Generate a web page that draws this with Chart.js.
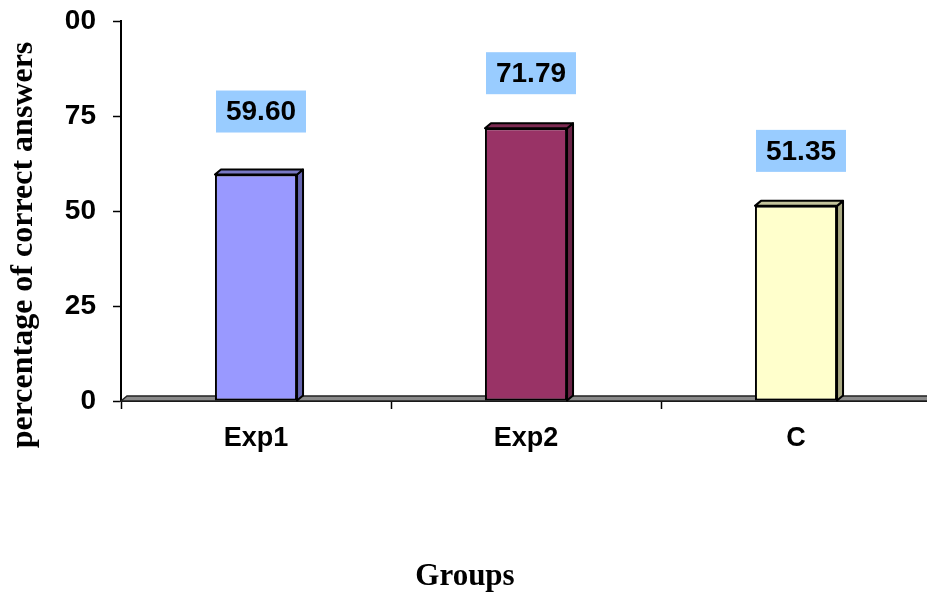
<!DOCTYPE html>
<html>
<head>
<meta charset="utf-8">
<script src="https://cdn.jsdelivr.net/npm/chart.js@4"></script>
<style>
  html, body { margin: 0; padding: 0; background: #fff; overflow: hidden; }
  #wrap { width: 940px; height: 593px; }
</style>
</head>
<body>
<div id="wrap"><canvas id="c" width="940" height="593"></canvas></div>
<script>
// Percentage of correct answers per group
const groups = ['Exp1', 'Exp2', 'C'];
const scores = [59.60, 71.79, 51.35];
const yTickLabels = ['0', '25', '50', '75', '00'];
const yTickValues = [0, 25, 50, 75, 100];

const frontColors = ['#9999FF', '#993366', '#FFFFCC'];
const sideColors  = ['#6565B0', '#6A2346', '#A9A982'];
const topColors   = ['#7878C4', '#7C2A52', '#C4C49C'];

const DEPTH_X = 6, DEPTH_Y = 5;

// grey 3D floor under the bars
const floorPlugin = {
  id: 'floor',
  beforeDatasetsDraw(chart) {
    const { ctx, chartArea } = chart;
    const y0 = chart.scales.y.getPixelForValue(0);
    const l = chartArea.left, r = chartArea.right;
    ctx.save();
    ctx.beginPath();
    ctx.moveTo(l, y0);
    ctx.lineTo(l + DEPTH_X, y0 - DEPTH_Y);
    ctx.lineTo(r + DEPTH_X, y0 - DEPTH_Y);
    ctx.lineTo(r, y0);
    ctx.closePath();
    ctx.fillStyle = '#8a8a8a';
    ctx.fill();
    ctx.lineWidth = 1.5;
    ctx.strokeStyle = '#222';
    ctx.stroke();
    ctx.restore();
  }
};

// side and top faces of each bar plus boxed value labels
const bar3dPlugin = {
  id: 'bar3d',
  afterDatasetsDraw(chart) {
    const { ctx } = chart;
    const meta = chart.getDatasetMeta(0);
    const lift = [42, 34, 34];
    meta.data.forEach((bar, i) => {
      const half = bar.width / 2;
      const l = bar.x - half, r = bar.x + half;
      const t = bar.y, b = bar.base;
      ctx.save();
      ctx.lineWidth = 2;
      ctx.strokeStyle = '#000';
      ctx.lineJoin = 'round';
      // side
      ctx.beginPath();
      ctx.moveTo(r, t);
      ctx.lineTo(r + DEPTH_X, t - DEPTH_Y);
      ctx.lineTo(r + DEPTH_X, b - DEPTH_Y);
      ctx.lineTo(r, b);
      ctx.closePath();
      ctx.fillStyle = sideColors[i];
      ctx.fill();
      ctx.stroke();
      // top
      ctx.beginPath();
      ctx.moveTo(l, t);
      ctx.lineTo(l + DEPTH_X, t - DEPTH_Y);
      ctx.lineTo(r + DEPTH_X, t - DEPTH_Y);
      ctx.lineTo(r, t);
      ctx.closePath();
      ctx.fillStyle = topColors[i];
      ctx.fill();
      ctx.stroke();

      // value label
      const text = scores[i].toFixed(2);
      const bw = 90, bh = 42;
      const cx = bar.x + DEPTH_X / 2 + 2;
      const boxBottom = t - lift[i];
      ctx.fillStyle = '#99CCFF';
      ctx.fillRect(cx - bw / 2, boxBottom - bh, bw, bh);
      ctx.fillStyle = '#000';
      ctx.font = 'bold 28px "Liberation Sans", Arial, sans-serif';
      ctx.textAlign = 'center';
      ctx.textBaseline = 'middle';
      ctx.fillText(text, cx, boxBottom - bh / 2 + 1);
      ctx.restore();
    });
  }
};

// axis titles
const titlesPlugin = {
  id: 'titles',
  afterDraw(chart) {
    const { ctx } = chart;
    ctx.save();
    ctx.fillStyle = '#000';
    ctx.font = 'bold 31px "Liberation Serif", "Times New Roman", serif';
    ctx.textAlign = 'center';
    ctx.textBaseline = 'alphabetic';
    ctx.fillText('Groups', 465, 585);
    ctx.font = 'bold 32px "Liberation Serif", "Times New Roman", serif';
    ctx.translate(32, 245);
    ctx.rotate(-Math.PI / 2);
    ctx.fillText('percentage of correct answers', 0, 0);
    ctx.restore();
  }
};

new Chart(document.getElementById('c'), {
  type: 'bar',
  data: {
    labels: groups,
    datasets: [{
      data: scores,
      backgroundColor: frontColors,
      borderColor: '#000',
      borderWidth: 2,
      borderSkipped: false,
      barPercentage: 0.304,
      categoryPercentage: 1.0
    }]
  },
  options: {
    responsive: false,
    animation: false,
    devicePixelRatio: 1,
    layout: { padding: { top: 21, right: 9, left: 0, bottom: 0 } },
    plugins: { legend: { display: false }, tooltip: { enabled: false } },
    scales: {
      x: {
        offset: true,
        grid: { display: true, offset: true, drawOnChartArea: false, tickLength: 8, tickColor: '#000', tickWidth: 1.5 },
        border: { display: true, color: '#000', width: 2 },
        ticks: { color: '#000', padding: 13, font: { family: '"Liberation Sans", Arial, sans-serif', size: 27, weight: 'bold' } },
        afterFit(scale) { scale.height = 192; scale.paddingLeft = 0; scale.paddingRight = 0; }
      },
      y: {
        min: 0,
        max: 100,
        afterBuildTicks(scale) { scale.ticks = yTickValues.map(v => ({ value: v })); },
        grid: { display: true, drawOnChartArea: false, tickLength: 8, tickColor: '#000', tickWidth: 1.5 },
        border: { display: true, color: '#000', width: 2 },
        ticks: {
          color: '#000',
          padding: 17,
          font: { family: '"Liberation Sans", Arial, sans-serif', size: 28, weight: 'bold' },
          callback: (v, i) => yTickLabels[i]
        },
        afterFit(scale) { scale.width = 121; scale.paddingTop = 0; scale.paddingBottom = 0; }
      }
    }
  },
  plugins: [floorPlugin, bar3dPlugin, titlesPlugin]
});
</script>
</body>
</html>
